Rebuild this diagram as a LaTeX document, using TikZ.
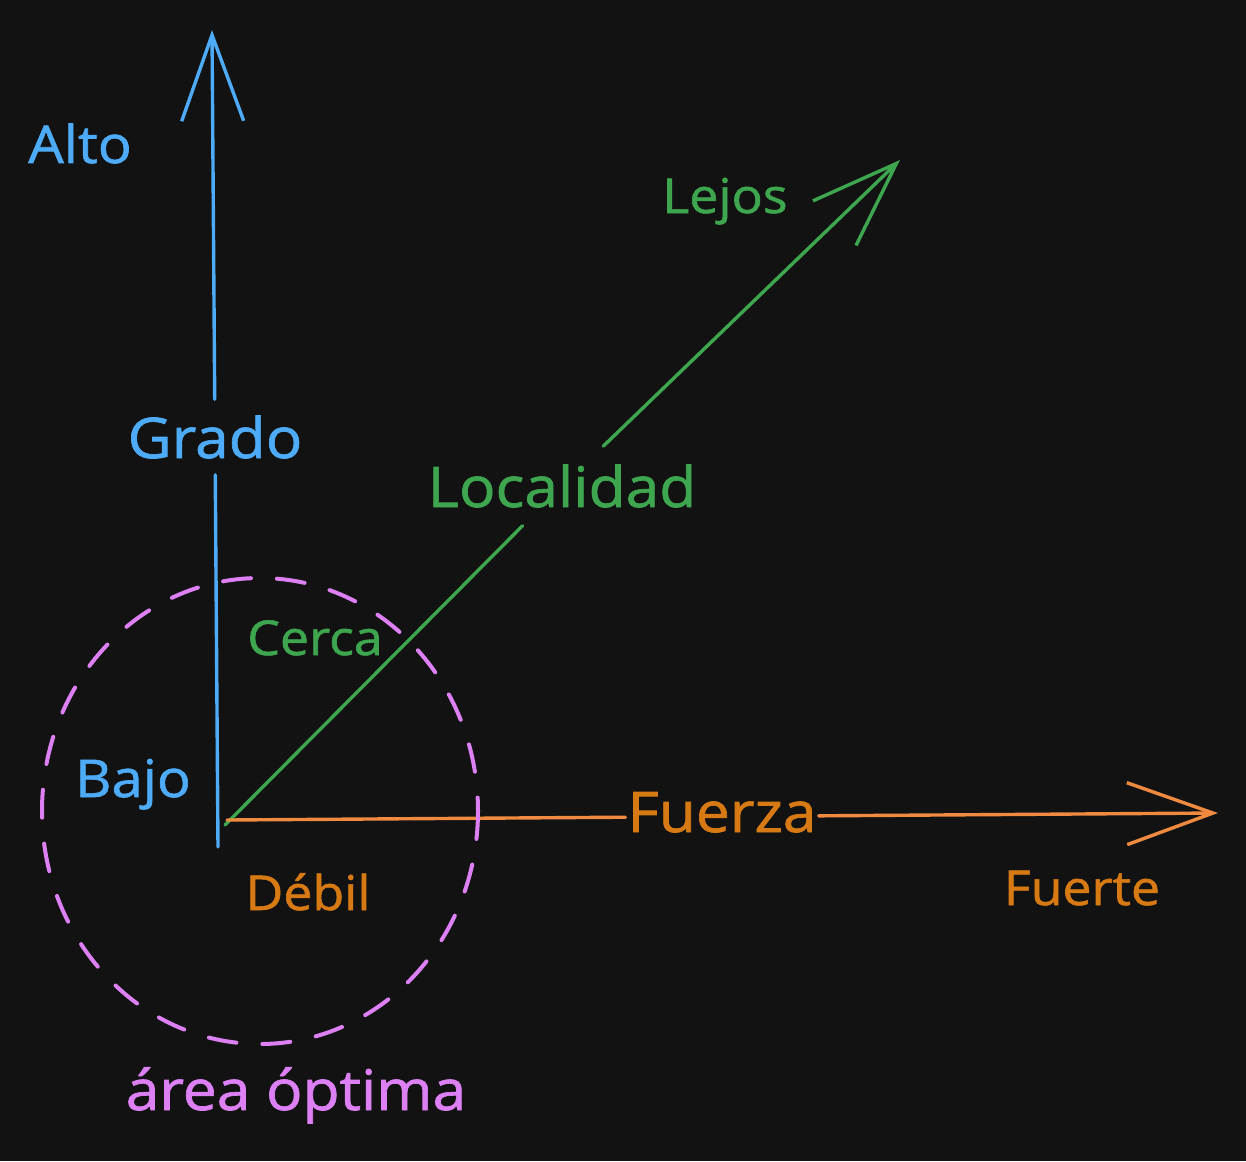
\documentclass[tikz,border=0pt]{standalone}
\usepackage{fontspec}
\setmainfont{Open Sans}[FakeStretch=1.08]
\newfontfamily\handfont{Open Sans}[FakeStretch=1.08,FakeBold=1.2]
\usetikzlibrary{arrows.meta,calc}
\definecolor{bg}{HTML}{121212}
\definecolor{cblue}{HTML}{4DABF7}
\definecolor{cgreen}{HTML}{3DA64E}
\definecolor{corange}{HTML}{F08A40}
\definecolor{corangetext}{HTML}{D77A14}
\definecolor{cpink}{HTML}{DC80F4}
\begin{document}
\begin{tikzpicture}[x=1pt,y=-1pt,
  axis/.style={line width=3.4pt, line cap=round, line join=round},
  barb/.style={-{Straight Barb[length=86pt,width=62pt,line width=3.4pt]}},
  big/.style={font=\handfont\fontsize{56}{60}\selectfont, anchor=base, inner sep=0pt},
  mid/.style={font=\handfont\fontsize{52}{56}\selectfont, anchor=base, inner sep=0pt},
  small/.style={font=\handfont\fontsize{48}{52}\selectfont, anchor=base, inner sep=0pt},
  gapped/.style={inner sep=16pt},
  pinkdash/.style={draw=cpink, line width=4pt, line cap=round, dash pattern=on 28pt off 26pt}
]
\fill[bg] (0,0) rectangle (1246,1161);
\useasboundingbox (0,0) rectangle (1246,1161);

% coordinates
\coordinate (vb) at (218,847);
\coordinate (vt) at (212,30);
\coordinate (gs) at (225,825);
\coordinate (ge) at (900,160);
\coordinate (os) at (227,820);
\coordinate (oe) at (1218,813);

% axis labels
\node[big, gapped, text=cblue] (grado) at (215,458) {Grado};
\node[big, inner xsep=18pt, inner ysep=18pt, text=cgreen] (loc) at (562,507) {Localidad};
\node[big, inner xsep=2pt, inner ysep=6pt, text=corangetext] (fuerza) at (722,832) {Fuerza};

% axes
\draw[axis, cblue] (vb) -- ($(vb)!(grado.south)!(vt)$);
\draw[axis, cblue, barb] ($(vb)!(grado.north)!(vt)$) -- (vt);
\draw[axis, cgreen] (gs) -- (loc);
\draw[axis, cgreen, barb] (loc) -- (ge);
\draw[axis, corange] (os) -- ($(os)!(fuerza.west)!(oe)$);
\draw[axis, corange, barb] ($(os)!(fuerza.east)!(oe)$) -- (oe);

% optimal area
\draw[pinkdash] (260,811) ellipse [x radius=218, y radius=233];

% end labels
\node[mid, text=cblue] (alto) at (80,163) {Alto};
\node[mid, text=cblue] (bajo) at (133,797) {Bajo};
\node[small, text=cgreen] (lejos) at (725,213) {Lejos};
\node[small, text=cgreen] (cerca) at (315,655) {Cerca};
\node[small, text=corangetext] (debil) at (308,910) {Débil};
\node[small, text=corangetext] (fuerte) at (1082,905) {Fuerte};
\node[big, text=cpink] (area) at (296,1110) {área óptima};
\end{tikzpicture}
\end{document}
